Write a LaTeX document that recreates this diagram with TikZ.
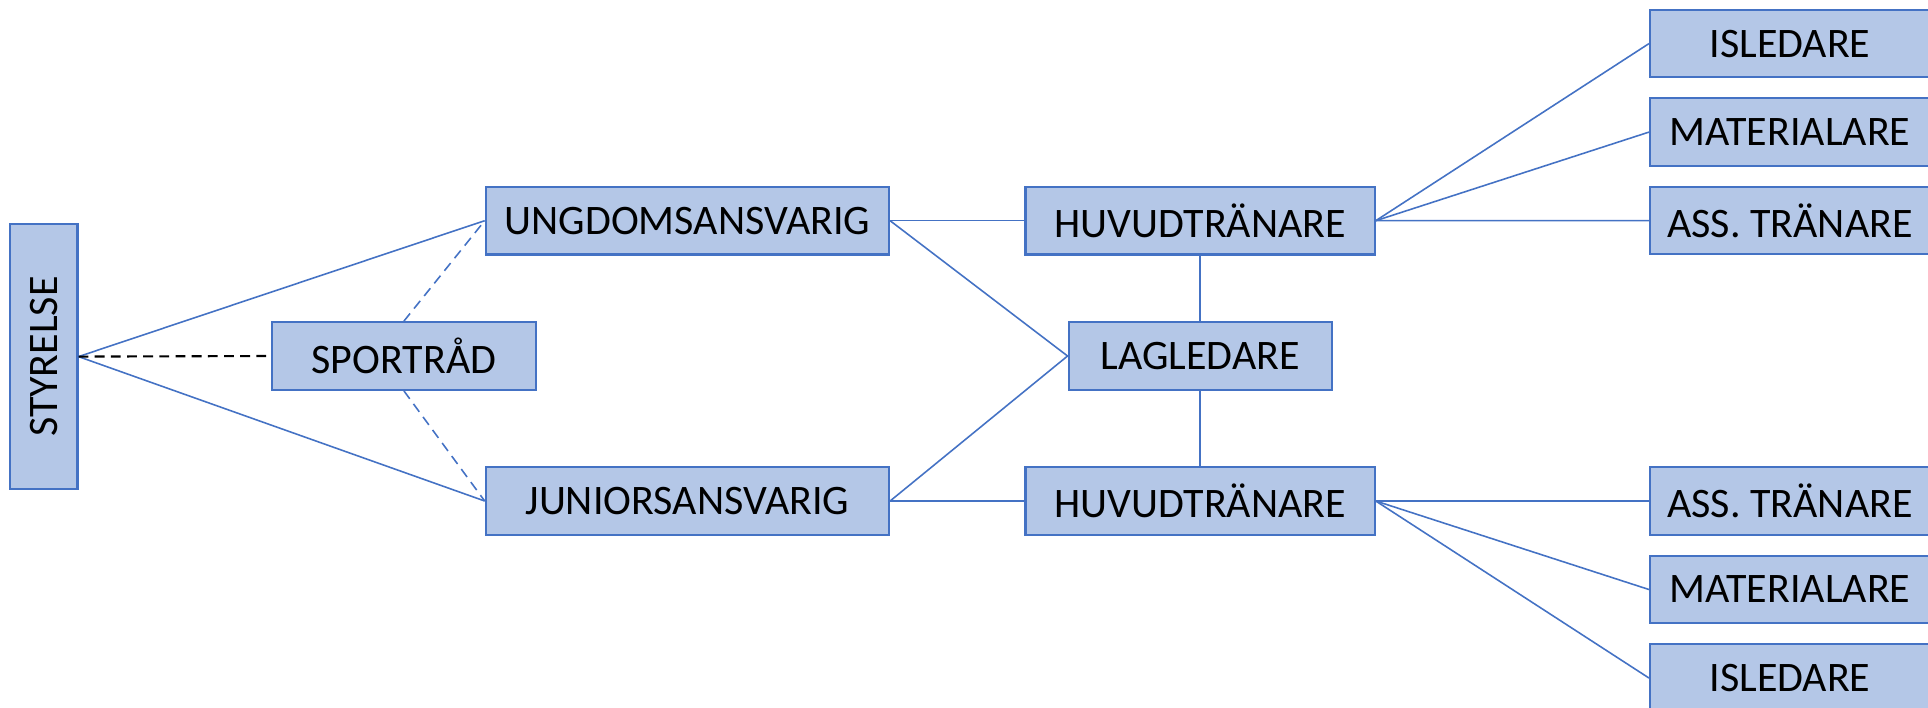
\documentclass[tikz,border=0pt]{standalone}
\usepackage{fontspec}
\setmainfont{Carlito}
\usepackage{graphicx}
\usetikzlibrary{positioning}
\definecolor{boxfill}{HTML}{B4C7E7}
\definecolor{boxline}{HTML}{4472C4}

\begin{document}
\begin{tikzpicture}
[font=\fontsize{11.95}{14}\selectfont,
% STYLES
% The role style is used to draw every box of the chart
role/.style={rectangle, draw=boxline, fill=boxfill, line width=0.6pt, inner sep=0pt, minimum width=#1, minimum height=0.676cm},
role/.default=2.64cm,
% The link style is used for the lines between the boxes
link/.style={draw=boxline, line width=0.45pt},
dashlink/.style={dash pattern=on 2.8pt off 1.8pt}]

\useasboundingbox (0,0) rectangle (19.28,-7.07);

% Draw boxes
\node [role=0.677cm, minimum height=2.656cm] (styrelse) at (0.436,-3.566) {\rotatebox{90}{STYRELSE}};
\node [role] (sportrad) at (4.039,-3.56) {SPORTRÅD};
\node [role=4.033cm] (ungdom) at (6.874,-2.207) {UNGDOMSANSVARIG};
\node [role=4.033cm] (junior) at (6.874,-5.01) {JUNIORSANSVARIG};
\node [role=3.492cm] (huvud1) at (12.001,-2.207) {HUVUDTRÄNARE};
\node [role=2.63cm] (lagledare) at (12.001,-3.56) {LAGLEDARE};
\node [role=3.492cm] (huvud2) at (12.001,-5.01) {HUVUDTRÄNARE};

% Right column
\node [role=2.80cm] (isledare1) at (17.90,-0.436) {ISLEDARE};
\node [role=2.80cm, below=0.188cm of isledare1] (material1) {MATERIALARE};
\node [role=2.80cm, below=0.188cm of material1] (ass1) {ASS. TRÄNARE};
\node [role=2.80cm] (ass2) at (17.90,-5.01) {ASS. TRÄNARE};
\node [role=2.80cm, below=0.188cm of ass2] (material2) {MATERIALARE};
\node [role=2.80cm, below=0.188cm of material2] (isledare2) {ISLEDARE};

% Draw the links between boxes
\path[link]
(styrelse.east) edge (ungdom.west)
(styrelse.east) edge (junior.west)
(ungdom.east) edge (huvud1.west)
(ungdom.east) edge (lagledare.west)
(junior.east) edge (lagledare.west)
(junior.east) edge (huvud2.west)
(huvud1) edge (lagledare)
(lagledare) edge (huvud2)
(huvud1.east) edge (isledare1.west)
(huvud1.east) edge (material1.west)
(huvud1.east) edge (ass1.west)
(huvud2.east) edge (ass2.west)
(huvud2.east) edge (material2.west)
(huvud2.east) edge (isledare2.west);

% Dashed links of the sports council
\draw[dashlink, line width=0.6pt] (styrelse.east) -- (sportrad.west);
\path[link, dashlink]
(sportrad.north) edge (ungdom.west)
(sportrad.south) edge (junior.west);

\end{tikzpicture}
\end{document}
